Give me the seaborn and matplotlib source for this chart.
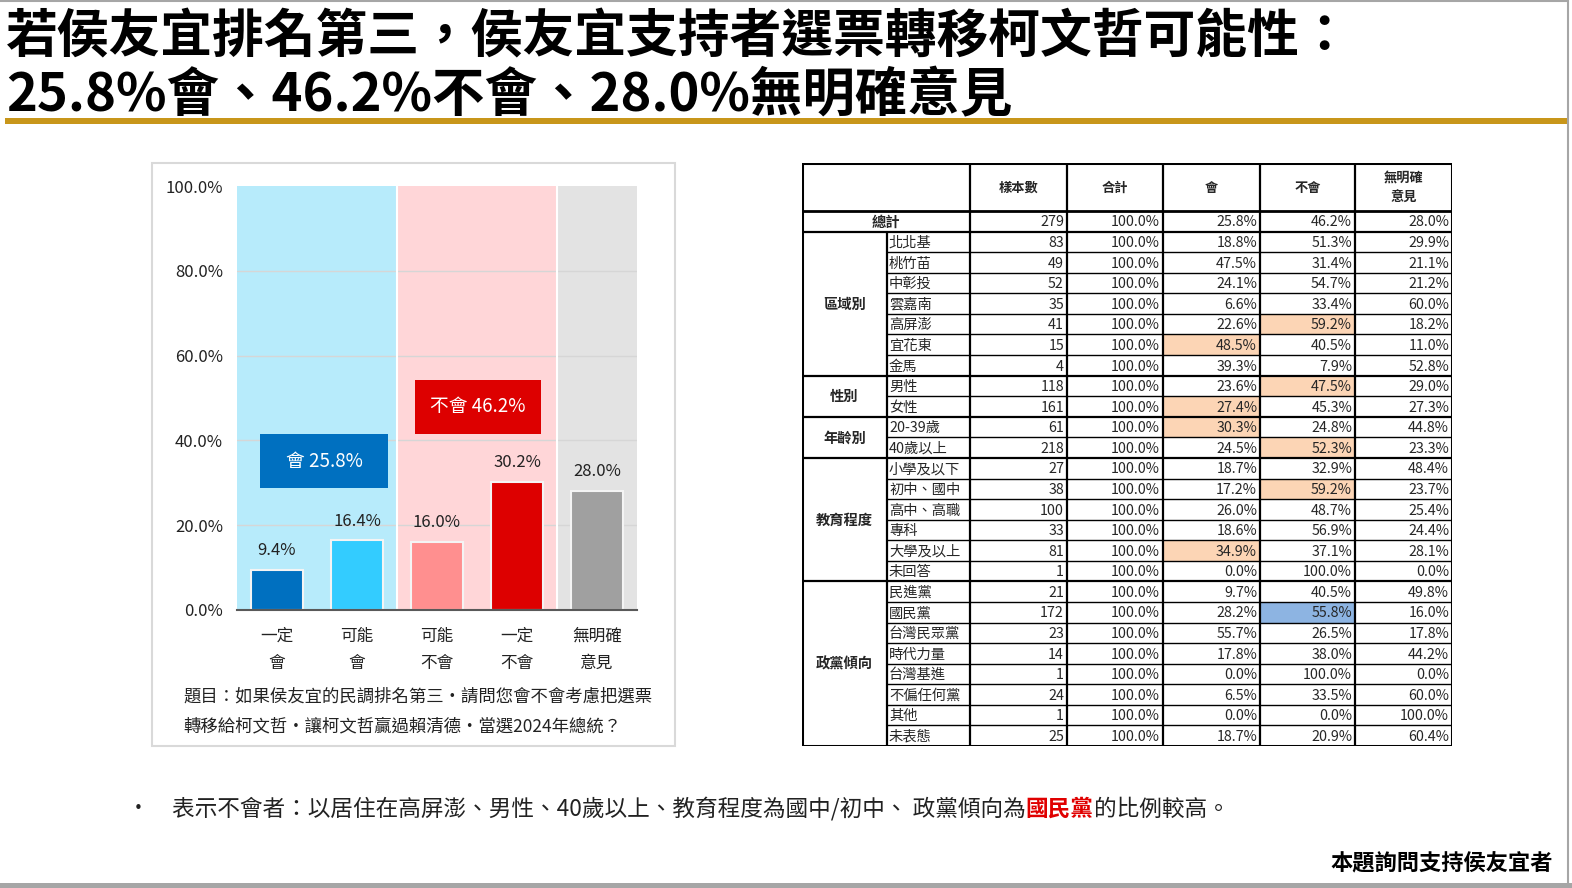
import numpy as np
import pandas as pd
import matplotlib
matplotlib.use('Agg')
import matplotlib.pyplot as plt
import seaborn as sns
from matplotlib.patches import Rectangle

# ---- chart data ----
categories = ['一定\n會', '可能\n會', '可能\n不會', '一定\n不會', '無明確\n意見']
values = [9.4, 16.4, 16.0, 30.2, 28.0]
bar_colors = ['#0070C0', '#33CCFF', '#FF8F8F', '#DD0000', '#A0A0A0']
y_ticks = [0, 20, 40, 60, 80, 100]
total_yes = 25.8
total_no = 46.2

# ---- table data ----
header = ['樣本數', '合計', '會', '不會', '無明確\n意見']
group_names = ['區域別', '性別', '年齡別', '教育程度', '政黨傾向']
group_sizes = [7, 2, 2, 6, 8]
row_labels = ['北北基', '桃竹苗', '中彰投', '雲嘉南', '高屏澎', '宜花東', '金馬',
              '男性', '女性',
              '20-39歲', '40歲以上',
              '小學及以下', '初中、國中', '高中、高職', '專科', '大學及以上', '未回答',
              '民進黨', '國民黨', '台灣民眾黨', '時代力量', '台灣基進', '不偏任何黨', '其他', '未表態']
n_sample = [83, 49, 52, 35, 41, 15, 4,
            118, 161,
            61, 218,
            27, 38, 100, 33, 81, 1,
            21, 172, 23, 14, 1, 24, 1, 25]
pct_yes = [18.8, 47.5, 24.1, 6.6, 22.6, 48.5, 39.3,
           23.6, 27.4,
           30.3, 24.5,
           18.7, 17.2, 26.0, 18.6, 34.9, 0.0,
           9.7, 28.2, 55.7, 17.8, 0.0, 6.5, 0.0, 18.7]
pct_no = [51.3, 31.4, 54.7, 33.4, 59.2, 40.5, 7.9,
          47.5, 45.3,
          24.8, 52.3,
          32.9, 59.2, 48.7, 56.9, 37.1, 100.0,
          40.5, 55.8, 26.5, 38.0, 100.0, 33.5, 0.0, 20.9]
pct_none = [29.9, 21.1, 21.2, 60.0, 18.2, 11.0, 52.8,
            29.0, 27.3,
            44.8, 23.3,
            48.4, 23.7, 25.4, 24.4, 28.1, 0.0,
            49.8, 16.0, 17.8, 44.2, 0.0, 60.0, 100.0, 60.4]
total_row = ['總計', 279, 25.8, 46.2, 28.0]
highlight_orange = [('高屏澎', 'no'), ('宜花東', 'yes'), ('男性', 'no'), ('女性', 'yes'),
                    ('20-39歲', 'yes'), ('40歲以上', 'no'), ('初中、國中', 'no'),
                    ('大學及以上', 'yes')]
highlight_blue = [('國民黨', 'no')]

sns.set_theme(style='white')
plt.rcParams['font.family'] = ['Noto Sans CJK TC', 'DejaVu Sans']

W, H = 1572, 888
fig = plt.figure(figsize=(W / 100, H / 100), dpi=100)
fig.patch.set_facecolor('white')


def px_axes(x0, y0, x1, y1):
    return fig.add_axes([x0 / W, 1 - y1 / H, (x1 - x0) / W, (y1 - y0) / H])


def fy(y):
    return 1 - y / H


# ---- slide frame and title ----
frame = fig.add_axes([0, 0, 1, 1], zorder=-5)
frame.set_xlim(0, W)
frame.set_ylim(H, 0)
frame.axis('off')
frame.plot([0, 1568], [1.5, 1.5], color='#A6A6A6', lw=1.5)
frame.plot([1568, 1568], [0, 884], color='#A6A6A6', lw=1.5)
frame.add_patch(Rectangle((0, 883), W, 5, color='#A6A6A6', lw=0))
frame.add_patch(Rectangle((5, 118.5), 1562, 5.5, color='#C8961A', lw=0))
frame.add_patch(Rectangle((152, 163), 523, 583, fill=False, ec='#D9D9D9', lw=1.5))

fig.text(6 / W, fy(37), '若侯友宜排名第三，侯友宜支持者選票轉移柯文哲可能性：',
         fontsize=37.3, fontweight='bold', va='center', ha='left', color='black')
fig.text(6 / W, fy(96), '25.8%會、46.2%不會、28.0%無明確意見',
         fontsize=37.8, fontweight='bold', va='center', ha='left', color='black')

# ---- bar chart ----
ax = px_axes(237, 186, 637, 610)
ax.axvspan(-0.5, 1.5, color='#B7EBFB', lw=0, zorder=0)
ax.axvspan(1.5, 3.5, color='#FFD6D8', lw=0, zorder=0)
ax.axvspan(3.5, 4.5, color='#E3E3E3', lw=0, zorder=0)
for yv in y_ticks[1:-1]:
    ax.axhline(yv, color='#D6D6D6', lw=1, zorder=0.5)
ax.axvline(1.5, color='white', lw=1.5, zorder=0.6)
ax.axvline(3.5, color='white', lw=1.5, zorder=0.6)

df = pd.DataFrame({'cat': categories, 'val': values})
sns.barplot(data=df, x='cat', y='val', hue='cat', palette=bar_colors, legend=False,
            width=0.65, edgecolor='#F4F4F4', linewidth=1.5, saturation=1, ax=ax, zorder=2)
for i, v in enumerate(values):
    ax.annotate(f'{v:.1f}%', (i, v), xytext=(0, 14), textcoords='offset points',
                ha='center', va='center', fontsize=12, color='#222222', zorder=3)

ax.set_xlim(-0.5, 4.5)
ax.set_ylim(0, 100)
ax.set_yticks(y_ticks)
ax.set_yticklabels([f'{t:.1f}%' for t in y_ticks], fontsize=12, color='#222222')
ax.tick_params(axis='y', length=0, pad=10)
ax.tick_params(axis='x', length=0, pad=13, labelsize=12, labelcolor='#222222')
for lab in ax.get_xticklabels():
    lab.set_linespacing(1.75)
ax.set_xlabel('')
ax.set_ylabel('')
for s in ['top', 'left', 'right']:
    ax.spines[s].set_visible(False)
ax.spines['bottom'].set_color('#595959')
ax.spines['bottom'].set_linewidth(1.5)
ax.spines['bottom'].set_zorder(4)

# summary boxes
ax.add_patch(Rectangle((-0.2125, 28.8), 1.6, 12.7, color='#0070C0', lw=0, zorder=3))
ax.text(0.5875, 35.1, f'會 {total_yes:.1f}%', color='white', fontsize=13.5,
        ha='center', va='center', zorder=4)
ax.add_patch(Rectangle((1.725, 41.5), 1.575, 12.7, color='#DD0000', lw=0, zorder=3))
ax.text(2.51, 47.9, f'不會 {total_no:.1f}%', color='white', fontsize=13.5,
        ha='center', va='center', zorder=4)

fig.text(183 / W, fy(697), '題目：如果侯友宜的民調排名第三‧請問您會不會考慮把選票',
         fontsize=12.5, ha='left', va='center', color='#222222')
fig.text(183 / W, fy(726), '轉移給柯文哲‧讓柯文哲贏過賴清德‧當選2024年總統？',
         fontsize=12.5, ha='left', va='center', color='#222222')

# ---- table ----
tx = px_axes(802, 163, 1452, 746)
tx.set_xlim(802, 1452)
tx.set_ylim(746, 163)
tx.axis('off')
col_edges = [802, 887, 970, 1067, 1163, 1260, 1355, 1452]
head_bot = 211
n_rows = len(row_labels) + 1
row_h = (746 - head_bot) / n_rows
col_key = {'yes': 4, 'no': 5}
dy = 1.2

# highlights
for fill, items in [('#FCD5B5', highlight_orange), ('#8DB4E2', highlight_blue)]:
    for lab, key in items:
        r = row_labels.index(lab) + 1
        c = col_key[key]
        tx.add_patch(Rectangle((col_edges[c], head_bot + r * row_h),
                               col_edges[c + 1] - col_edges[c], row_h, color=fill, lw=0))

fs = 10.3
# header
for j, h in enumerate(header):
    cx = (col_edges[j + 2] + col_edges[j + 3]) / 2
    tx.text(cx, (163 + head_bot) / 2 + dy, h, ha='center', va='center', fontsize=9.5,
            fontweight='bold', linespacing=1.5)

# total row
yc = head_bot + row_h / 2 + dy
tx.text((col_edges[0] + col_edges[2]) / 2, yc, total_row[0], ha='center', va='center',
        fontsize=fs, fontweight='bold')
tot_vals = [str(total_row[1]), '100.0%'] + [f'{v:.1f}%' for v in total_row[2:]]
for j, t in enumerate(tot_vals):
    tx.text(col_edges[j + 3] - 3, yc, t, ha='right', va='center', fontsize=fs)

# body rows
for i, lab in enumerate(row_labels):
    yc = head_bot + (i + 1.5) * row_h + dy
    tx.text(col_edges[1] + 2, yc, lab, ha='left', va='center', fontsize=fs)
    cells = [str(n_sample[i]), '100.0%', f'{pct_yes[i]:.1f}%', f'{pct_no[i]:.1f}%',
             f'{pct_none[i]:.1f}%']
    for j, t in enumerate(cells):
        tx.text(col_edges[j + 3] - 3, yc, t, ha='right', va='center', fontsize=fs)

# group labels and lines
start = 1
for g, sz in zip(group_names, group_sizes):
    y0 = head_bot + start * row_h
    y1 = head_bot + (start + sz) * row_h
    tx.text((col_edges[0] + col_edges[1]) / 2, (y0 + y1) / 2 + dy, g, ha='center',
            va='center', fontsize=fs, fontweight='bold')
    tx.plot([col_edges[0], col_edges[-1]], [y0, y0], color='black', lw=1.6)
    for k in range(1, sz):
        yy = y0 + k * row_h
        tx.plot([col_edges[1], col_edges[-1]], [yy, yy], color='black', lw=1)
    start += sz

tx.plot([col_edges[0], col_edges[-1]], [head_bot, head_bot], color='black', lw=2)
for xe in col_edges[1:-1]:
    y_top = 163 if xe >= col_edges[2] else head_bot + row_h
    tx.plot([xe, xe], [y_top, 746], color='black', lw=1.6)
tx.add_patch(Rectangle((802, 163), 650, 583, fill=False, ec='black', lw=2.2))

# ---- bullet note ----
fig.text(138 / W, fy(809), '•', fontsize=15, ha='center', va='center', color='#222222')
parts = [('表示不會者：以居住在高屏澎、男性、40歲以上、教育程度為國中/初中、 政黨傾向為', '#222222', 'normal'),
         ('國民黨', '#E00000', 'bold'),
         ('的比例較高。', '#222222', 'normal')]
fig.canvas.draw()
renderer = fig.canvas.get_renderer()
xpos = 172
for txt, col, wt in parts:
    t = fig.text(xpos / W, fy(809), txt, fontsize=16.3, ha='left', va='center', color=col,
                 fontweight=wt)
    xpos += t.get_window_extent(renderer).width

fig.text(1553 / W, fy(864), '本題詢問支持侯友宜者', fontsize=16, fontweight='bold',
         ha='right', va='center', color='black')

fig.savefig('out.png', dpi=100)
